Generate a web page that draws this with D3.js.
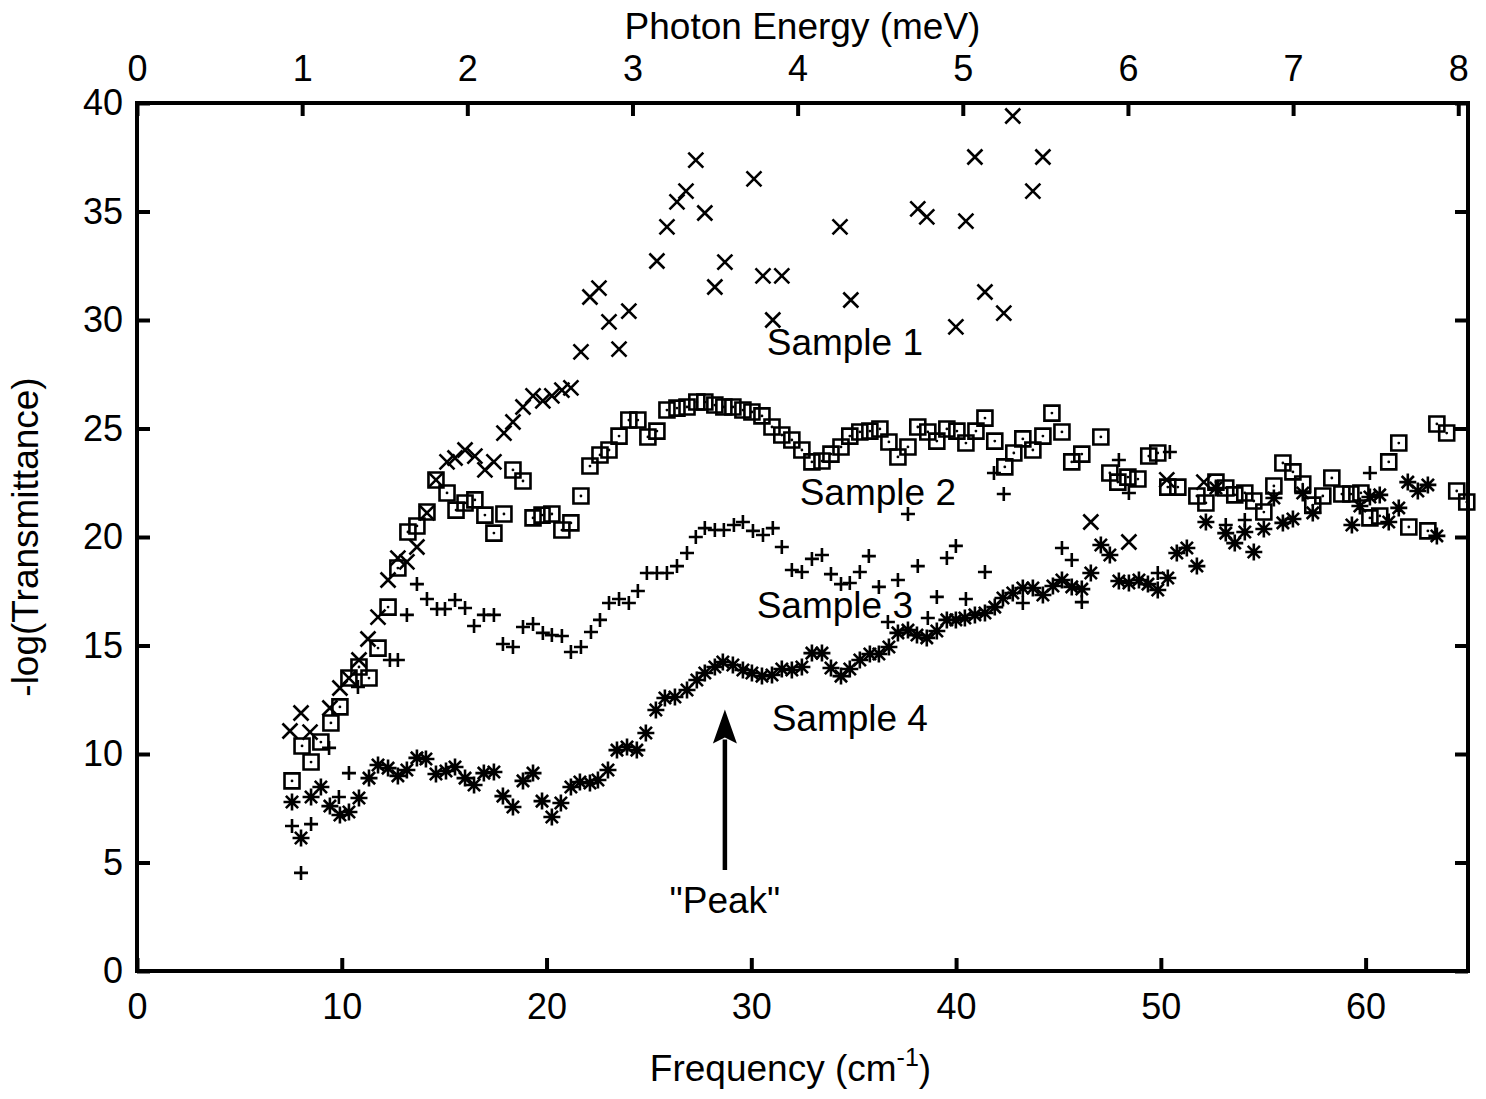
<!DOCTYPE html>
<html>
<head>
<meta charset="utf-8">
<script src="https://cdn.jsdelivr.net/npm/d3@7"></script>
<style>
  body { margin: 0; background: #fff; }
  text { font-family: "Liberation Sans", Arial, Helvetica, sans-serif; fill: #000; }
</style>
</head>
<body>
<svg id="chart"></svg>
<script>
// Sample 1 (x marks)
const s1Freq = [7.47,8.01,8.45,9.42,9.91,10.35,10.84,11.28,11.77,12.26,12.74,13.18,13.67,14.16,14.60,15.14,15.53,16.02,16.50,16.99,17.43,17.92,18.36,18.85,19.34,19.82,20.26,20.75,21.19,21.68,22.12,22.56,23.05,23.54,24.02,25.39,25.88,26.37,26.81,27.29,27.73,28.22,28.71,30.13,30.57,31.05,31.49,34.33,34.86,38.13,38.57,39.99,40.48,40.92,41.41,42.33,42.77,43.75,44.24,46.58,48.44,50.29,52.10];
const s1Val = [11.06,11.89,11.01,12.12,13.04,13.50,14.33,15.30,16.31,18.02,19.03,18.85,19.54,21.11,22.63,23.46,23.64,24.01,23.73,23.09,23.46,24.79,25.30,25.99,26.50,26.27,26.50,26.77,26.87,28.53,31.06,31.47,29.91,28.66,30.41,32.72,34.29,35.44,35.94,37.37,34.93,31.52,32.67,36.50,32.03,30.00,32.03,34.29,30.92,35.12,34.75,29.68,34.56,37.51,31.29,30.32,39.40,35.94,37.51,20.69,19.77,22.63,22.53];

// Sample 2 (boxes)
const s2Freq = [7.57,8.06,8.50,8.98,9.47,9.91,10.35,10.84,11.33,11.77,12.26,12.74,13.23,13.67,14.16,14.60,15.14,15.58,16.02,16.50,16.99,17.43,17.92,18.36,18.85,19.34,19.78,20.26,20.75,21.19,21.68,22.12,22.61,23.05,23.54,24.02,24.46,24.95,25.39,25.88,26.37,26.86,27.34,27.73,28.22,28.66,29.10,29.59,30.03,30.52,31.01,31.49,31.98,32.47,32.96,33.45,33.89,34.38,34.81,35.30,35.79,36.28,36.72,37.16,37.65,38.13,38.62,39.06,39.55,40.04,40.48,40.97,41.41,41.89,42.38,42.82,43.26,43.75,44.24,44.68,45.17,45.65,46.14,47.07,47.51,47.90,48.39,48.88,49.41,49.85,50.34,50.83,51.76,52.20,52.69,53.17,53.61,54.10,54.54,55.03,55.52,55.96,56.45,56.93,57.42,57.91,58.35,58.84,59.28,59.77,60.21,60.69,61.13,61.62,62.11,63.04,63.48,63.96,64.45,64.94];
const s2Val = [8.76,10.37,9.63,10.55,11.43,12.17,13.50,14.01,13.50,14.88,16.77,18.57,20.23,20.51,21.15,22.63,22.03,21.24,21.57,21.71,21.01,20.18,21.06,23.09,22.58,20.88,21.01,21.06,20.32,20.65,21.89,23.27,23.78,24.01,24.65,25.39,25.39,24.61,24.88,25.85,25.94,25.99,26.22,26.22,26.08,25.99,25.99,25.85,25.76,25.58,25.07,24.70,24.47,24.01,23.46,23.50,23.82,24.15,24.65,24.84,24.88,24.98,24.38,23.69,24.15,25.07,24.84,24.42,24.98,24.88,24.33,24.88,25.48,24.42,23.23,23.87,24.52,24.01,24.65,25.71,24.84,23.46,23.82,24.61,22.95,22.53,22.76,22.67,23.73,23.87,22.30,22.30,21.89,21.57,22.53,22.26,21.94,22.03,21.66,21.15,22.35,23.41,23.00,22.44,21.47,21.89,22.72,21.98,21.98,22.03,20.88,20.97,23.46,24.33,20.46,20.28,25.21,24.79,22.12,21.61];

// Sample 3 (plus marks)
const s3Freq = [7.57,8.01,8.50,9.38,9.86,10.35,10.79,12.35,12.74,13.18,13.67,14.16,14.65,15.04,15.53,16.02,16.46,16.94,17.43,17.87,18.36,18.85,19.34,19.82,20.26,20.75,21.19,21.68,22.17,22.61,23.05,23.54,24.02,24.46,24.90,25.39,25.88,26.37,26.86,27.29,27.73,28.22,28.66,29.15,29.59,30.08,30.57,31.05,31.49,31.98,32.47,32.96,33.45,33.89,34.38,34.81,35.30,35.74,36.23,36.67,37.16,37.65,38.13,38.62,39.06,39.55,39.99,40.48,41.41,41.85,42.33,43.26,45.17,45.65,46.14,47.95,48.44,49.85,50.44,53.17,54.10,60.21];
const s3Val = [6.68,4.52,6.77,10.28,8.02,9.12,13.09,14.33,14.33,16.41,17.83,17.14,16.68,16.68,17.10,16.73,15.90,16.41,16.41,15.07,14.93,15.85,15.99,15.58,15.48,15.44,14.70,14.93,15.62,16.18,16.96,17.14,16.96,17.51,18.34,18.34,18.34,18.66,19.26,20.00,20.41,20.32,20.32,20.55,20.69,20.28,20.09,20.41,19.54,18.48,18.39,18.99,19.17,18.29,17.83,17.88,18.39,19.12,17.70,16.08,18.02,21.06,18.66,16.27,17.24,19.03,19.59,17.14,18.39,22.95,21.98,16.96,19.49,18.94,17.00,23.55,22.03,18.34,23.92,20.55,20.78,22.95];

// Sample 4 (asterisks)
const s4Freq = [7.57,8.01,8.50,8.98,9.42,9.91,10.35,10.84,11.33,11.77,12.26,12.74,13.18,13.67,14.11,14.60,15.09,15.53,16.02,16.46,16.94,17.43,17.87,18.36,18.85,19.34,19.78,20.26,20.70,21.19,21.63,22.12,22.51,23.00,23.44,23.93,24.41,24.85,25.34,25.78,26.27,26.86,27.34,27.73,28.22,28.61,29.10,29.59,30.03,30.52,31.01,31.49,31.98,32.47,32.96,33.45,33.89,34.38,34.81,35.30,35.79,36.23,36.72,37.16,37.65,38.09,38.57,39.06,39.55,39.99,40.43,40.92,41.41,41.89,42.29,42.77,43.26,43.75,44.24,44.73,45.17,45.65,46.14,46.58,47.07,47.51,47.95,48.44,48.93,49.37,49.85,50.34,50.78,51.27,51.76,52.20,52.69,53.17,53.61,54.10,54.54,55.03,55.52,55.96,56.45,56.93,57.42,59.33,59.72,60.21,60.69,61.13,61.62,62.06,62.55,63.04,63.48];
const s4Val = [7.79,6.13,8.02,8.48,7.60,7.19,7.33,7.97,8.89,9.49,9.35,8.99,9.26,9.82,9.77,9.08,9.22,9.40,8.89,8.57,9.12,9.17,8.06,7.56,8.76,9.12,7.83,7.10,7.74,8.48,8.71,8.66,8.80,9.26,10.18,10.32,10.18,10.97,12.03,12.58,12.63,12.95,13.41,13.73,14.01,14.24,14.10,13.87,13.73,13.59,13.64,13.92,13.87,14.01,14.65,14.65,13.96,13.59,13.92,14.33,14.61,14.61,14.93,15.58,15.71,15.48,15.35,15.67,16.18,16.18,16.27,16.41,16.50,16.77,17.19,17.42,17.65,17.65,17.33,17.74,18.02,17.70,17.60,18.34,19.63,19.17,17.97,17.88,18.02,17.83,17.56,18.11,19.26,19.49,18.66,20.69,22.26,20.18,19.72,20.23,19.31,20.37,21.80,20.65,20.83,22.03,21.11,20.55,21.43,21.84,21.94,20.69,21.34,22.53,22.12,22.40,20.05];

const freqTicks = [0, 10, 20, 30, 40, 50, 60];
const valueTicks = [0, 5, 10, 15, 20, 25, 30, 35, 40];
const energyTicks = [0, 1, 2, 3, 4, 5, 6, 7, 8];
const CM_PER_MEV = 8.0655;

const sampleNames = ["Sample 1", "Sample 2", "Sample 3", "Sample 4"];
// label anchor points, in data units (frequency, -log T)
const labelFreq = [34.57, 36.18, 34.08, 34.81];
const labelVal = [28.99, 22.07, 16.87, 11.66];
const peakFreq = 28.71;
const peakText = [3.27];
const peakArrow = [4.65, 12.05];

const width = 1486, height = 1099;
const margin = {top: 103, right: 18, bottom: 128, left: 137};

const x = d3.scaleLinear().domain([0, 65]).range([margin.left, width - margin.right]);
const xTop = d3.scaleLinear().domain([0, 65 / CM_PER_MEV]).range([margin.left, width - margin.right]);
const y = d3.scaleLinear().domain([0, 40]).range([height - margin.bottom, margin.top]);

const svg = d3.select("#chart").attr("width", width).attr("height", height);

// axes, ticks inward like gnuplot
const fontSize = 36;
function styleAxis(g) {
  g.select(".domain").remove();
  g.selectAll(".tick line").attr("stroke", "#000").attr("stroke-width", 4);
  g.selectAll(".tick text").style("font-size", fontSize + "px").attr("fill", "#000");
}

svg.append("g")
  .attr("transform", `translate(0,${y(0)})`)
  .call(d3.axisBottom(x).tickValues(freqTicks).tickSizeInner(-13).tickSizeOuter(0).tickPadding(22))
  .call(styleAxis);

svg.append("g")
  .attr("transform", `translate(0,${y(40)})`)
  .call(d3.axisTop(xTop).tickValues(energyTicks).tickSizeInner(-13).tickSizeOuter(0).tickPadding(22))
  .call(styleAxis);

svg.append("g")
  .attr("transform", `translate(${x(0)},0)`)
  .call(d3.axisLeft(y).tickValues(valueTicks).tickSizeInner(-13).tickSizeOuter(0).tickPadding(14))
  .call(styleAxis);

svg.append("g")
  .attr("transform", `translate(${x(65)},0)`)
  .call(d3.axisRight(y).tickValues(valueTicks).tickSizeInner(-13).tickSizeOuter(0).tickFormat(""))
  .call(styleAxis);

// frame
svg.append("rect")
  .attr("x", x(0)).attr("y", y(40))
  .attr("width", x(65) - x(0)).attr("height", y(0) - y(40))
  .attr("fill", "none").attr("stroke", "#000").attr("stroke-width", 4);

// axis titles
svg.append("text")
  .attr("x", (x(0) + x(65)) / 2).attr("y", 39)
  .attr("text-anchor", "middle").style("font-size", "37px")
  .text("Photon Energy (meV)");

const xt = svg.append("text")
  .attr("x", (x(0) + x(65)) / 2 - 12).attr("y", 1081)
  .attr("text-anchor", "middle").style("font-size", "37px");
xt.append("tspan").text("Frequency (cm");
xt.append("tspan").attr("dy", -15).style("font-size", "25px").text("-1");
xt.append("tspan").attr("dy", 15).text(")");

svg.append("text")
  .attr("transform", `translate(38,${(y(0) + y(40)) / 2}) rotate(-90)`)
  .attr("text-anchor", "middle").style("font-size", "37px")
  .text("-log(Transmittance)");

// marker shapes
const shape = {
  times: r => `M${-r},${-r}L${r},${r}M${-r},${r}L${r},${-r}`,
  box: r => `M${-r},${-r}H${r}V${r}H${-r}Z`,
  plus: r => `M${-r},0H${r}M0,${-r}V${r}`,
  star: r => `M${-r},0H${r}M0,${-r}V${r}` +
    `M${-r * 0.72},${-r * 0.72}L${r * 0.72},${r * 0.72}M${-r * 0.72},${r * 0.72}L${r * 0.72},${-r * 0.72}`
};

const series = [
  {freq: s1Freq, val: s1Val, path: shape.times(7.5)},
  {freq: s2Freq, val: s2Val, path: shape.box(7.5), dot: true},
  {freq: s3Freq, val: s3Val, path: shape.plus(7)},
  {freq: s4Freq, val: s4Val, path: shape.star(8.5)}
];

const plot = svg.append("g");
series.forEach(s => {
  const pts = s.freq.map((f, i) => [f, s.val[i]]);
  const g = plot.append("g");
  g.selectAll("path")
    .data(pts).enter().append("path")
    .attr("transform", d => `translate(${x(d[0])},${y(d[1])})`)
    .attr("d", s.path)
    .attr("fill", "none").attr("stroke", "#000").attr("stroke-width", 2.6);
  if (s.dot) {
    g.selectAll("circle")
      .data(pts).enter().append("circle")
      .attr("cx", d => x(d[0])).attr("cy", d => y(d[1]))
      .attr("r", 1.4).attr("fill", "#000");
  }
});

// sample labels
svg.append("g").selectAll("text")
  .data(sampleNames).enter().append("text")
  .attr("x", (d, i) => x(labelFreq[i]))
  .attr("y", (d, i) => y(labelVal[i]))
  .attr("dy", "0.36em")
  .attr("text-anchor", "middle").style("font-size", "37px")
  .text(d => d);

// "Peak" annotation with arrow
svg.append("text")
  .attr("x", x(peakFreq)).attr("y", y(peakText[0])).attr("dy", "0.36em")
  .attr("text-anchor", "middle").style("font-size", "37px")
  .text('"Peak"');

const ax = x(peakFreq), ay0 = y(peakArrow[0]), ay1 = y(peakArrow[1]);
svg.append("line")
  .attr("x1", ax).attr("x2", ax).attr("y1", ay0).attr("y2", ay1 + 30)
  .attr("stroke", "#000").attr("stroke-width", 4.5);
svg.append("path")
  .attr("d", `M${ax},${ay1}L${ax - 12},${ay1 + 34}L${ax},${ay1 + 28}L${ax + 12},${ay1 + 34}Z`)
  .attr("fill", "#000");
</script>
</body>
</html>
